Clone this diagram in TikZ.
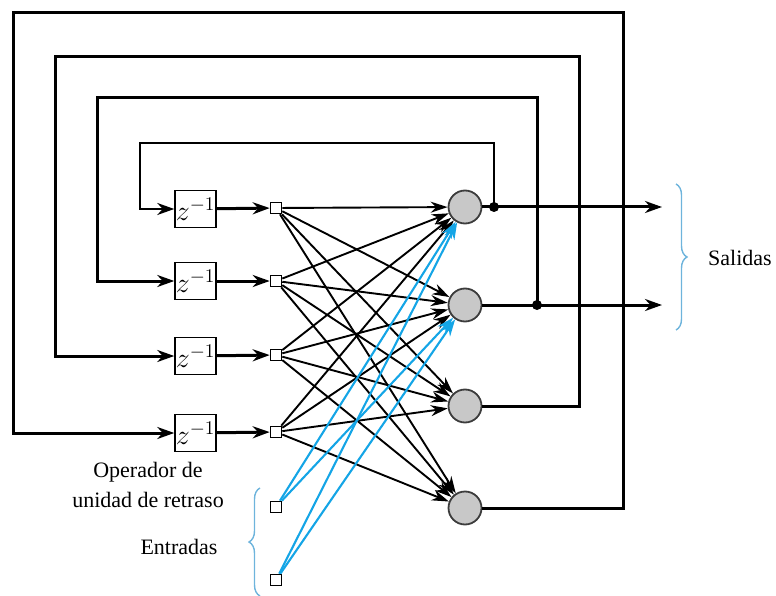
\documentclass[tikz,border=0pt]{standalone}
\usepackage{fontspec}
\setmainfont{Liberation Serif}
\usetikzlibrary{arrows.meta,decorations.pathreplacing}
\definecolor{cblue}{RGB}{20,165,230}
\definecolor{bblue}{RGB}{110,180,220}
\definecolor{ngray}{RGB}{200,200,200}
\definecolor{ndraw}{RGB}{60,60,60}
\newcommand{\zinv}{\scalebox{1.35}{$z^{-1}$}}
\tikzset{
  neuron/.style={circle,draw=ndraw,fill=ngray,line width=1.8pt,minimum size=33pt,inner sep=0pt},
  sq/.style={rectangle,draw=black,fill=white,line width=1.6pt,minimum size=11pt,inner sep=0pt},
  delay/.style={rectangle,draw=black,line width=1.5pt,minimum width=41pt,minimum height=37pt,inner sep=0pt,font=\fontsize{20}{22}\selectfont},
  conn/.style={line width=1.9pt,-{Stealth[length=17pt,width=11pt]}},
  bconn/.style={draw=cblue,line width=2.1pt,-{Stealth[length=17pt,width=11pt]}},
  fb/.style={line width=3pt},
  fbthin/.style={line width=2.3pt},
  fbarrow/.style={-{Stealth[length=17pt,width=12pt]}},
  lbl/.style={font=\fontsize{22}{30}\selectfont,inner sep=0pt},
  brc/.style={draw=bblue,line width=1.4pt,decorate,decoration={brace,amplitude=11pt}},
  dot/.style={circle,fill=black,inner sep=0pt,minimum size=10pt}
}
\begin{document}
\begin{tikzpicture}[x=1pt,y=-1pt]
\useasboundingbox (0,0) rectangle (776,596);
% neurons
\node[neuron] (n1) at (465,207) {};
\node[neuron] (n2) at (465,305) {};
\node[neuron] (n3) at (465,406) {};
\node[neuron] (n4) at (465,508) {};
% delay boxes
\node[delay] (d1) at (195.5,209) {\zinv};
\node[delay] (d2) at (195.5,281) {\zinv};
\node[delay] (d3) at (195.5,356) {\zinv};
\node[delay] (d4) at (195.5,433) {\zinv};
% squares
\node[sq] (s1) at (276,208) {};
\node[sq] (s2) at (276,281) {};
\node[sq] (s3) at (276,355) {};
\node[sq] (s4) at (276,432) {};
\node[sq] (e1) at (276,507) {};
\node[sq] (e2) at (276,580) {};
% box to square
\foreach \i in {1,...,4} \draw[fb,fbarrow] (d\i) -- (s\i);
% connections
\foreach \i in {1,...,4}{
  \foreach \j in {1,...,4}{
    \draw[conn] (s\i) -- (n\j);
  }
}
\foreach \i in {1,2}{
  \foreach \j in {1,2}{
    \draw[bconn] (e\i) -- (n\j);
  }
}
% outputs
\coordinate (o1) at (662,207);
\coordinate (o2) at (662,305);
\draw[fb,fbarrow] (n1) -- (o1);
\draw[fb,fbarrow] (n2) -- (o2);
\node[dot] (k1) at (494,207) {};
\node[dot] (k2) at (537,305) {};
% loop 1
\coordinate (a1) at (494,143);
\coordinate (b1) at (140,143);
\draw[fbthin,fbarrow] (k1.center) -- (a1) -- (b1) |- (d1.west);
% loop 2
\coordinate (a2) at (537,98);
\coordinate (b2) at (97,98);
\draw[fb,fbarrow] (k2.center) -- (a2) -- (b2) |- (d2.west);
% loop 3
\coordinate (a3) at (579,57);
\coordinate (b3) at (55,57);
\draw[fb,fbarrow] (n3.east) -| (a3) -- (b3) |- (d3.west);
% loop 4
\coordinate (a4) at (623,13);
\coordinate (b4) at (13,13);
\draw[fb,fbarrow] (n4.east) -| (a4) -- (b4) |- (d4.west);
% braces
\coordinate (bs1) at (676,184);
\coordinate (bs2) at (676,330);
\draw[brc] (bs1) -- (bs2);
\coordinate (be1) at (260,596);
\coordinate (be2) at (260,488);
\draw[brc] (be1) -- (be2);
% labels
\node[lbl,anchor=base west] (sal) at (708,265) {Salidas};
\node[lbl,anchor=base] (ent) at (179,554) {Entradas};
\node[lbl,anchor=base] (op1) at (148,477) {Operador de};
\node[lbl,anchor=base] (op2) at (148,507) {unidad de retraso};
\end{tikzpicture}
\end{document}
